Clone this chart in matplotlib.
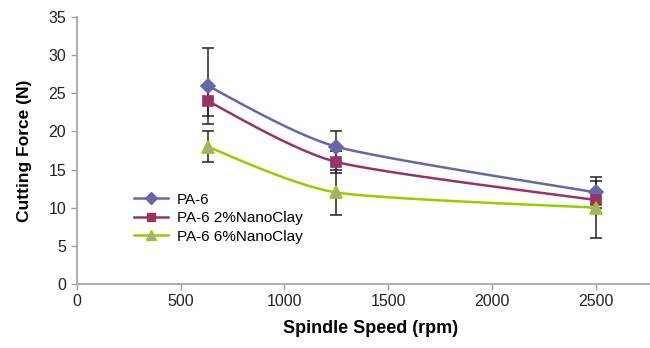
"""Cutting force vs spindle speed for PA-6 and nanoclay composites."""

import matplotlib

matplotlib.use("Agg")
import matplotlib.pyplot as plt
import numpy as np

plt.rcParams["font.family"] = ["Liberation Sans", "DejaVu Sans"]

speed = [630, 1250, 2500]
series_names = ["PA-6", "PA-6 2%NanoClay", "PA-6 6%NanoClay"]
force_pa6 = [26, 18, 12]
force_2pct = [24, 16, 11]
force_6pct = [18, 12, 10]
err_pa6 = [5, 2, 1.5]
err_2pct = [2, 1.5, 1]
err_6pct = [2, 3, 4]

X_MAX = 2760
Y_MAX = 35


def smooth_curve(xs, ys, sx, sy, tension=1 / 9, n=40):
    """Smoothed line: cubic Bezier through the points, computed in pixel space."""
    px = np.asarray(xs, float) * sx
    py = np.asarray(ys, float) * sy
    pts = np.column_stack([px, py])
    ext = np.vstack([pts[0], pts, pts[-1]])
    t = np.linspace(0, 1, n)[:, None]
    out = []
    for i in range(len(pts) - 1):
        p0, p1 = ext[i + 1], ext[i + 2]
        c1 = p0 + (ext[i + 2] - ext[i]) * tension
        c2 = p1 - (ext[i + 3] - ext[i + 1]) * tension
        seg = (1 - t) ** 3 * p0 + 3 * (1 - t) ** 2 * t * c1 + 3 * (1 - t) * t ** 2 * c2 + t ** 3 * p1
        out.append(seg if i == 0 else seg[1:])
    out = np.vstack(out)
    return out[:, 0] / sx, out[:, 1] / sy


fig = plt.figure(figsize=(6.5, 3.48), dpi=100)
ax = fig.add_axes([0.118, 0.184, 0.882, 0.767])

ax_w = 0.882 * 650
ax_h = 0.767 * 348
sx = ax_w / X_MAX
sy = ax_h / Y_MAX

styles = [
    (force_pa6, err_pa6, "#6666a8", "D", "#6666a8", "#6666a8", 7),
    (force_2pct, err_2pct, "#993366", "s", "#993366", "#993366", 7),
    (force_6pct, err_6pct, "#99cc00", "^", "#a6a6a6", "#99cc00", 8),
]

handles = []
for (vals, errs, color, marker, face, edge, ms), name in zip(styles, series_names):
    ax.errorbar(speed, vals, yerr=errs, fmt="none", ecolor="#222222",
                elinewidth=1.1, capsize=4, capthick=1.1, zorder=2)
    cx, cy = smooth_curve(speed, vals, sx, sy)
    ax.plot(cx, cy, color=color, lw=1.8, zorder=3)
    ax.plot(speed, vals, linestyle="none", marker=marker, ms=ms,
            markerfacecolor=face, markeredgecolor=edge, markeredgewidth=1.2, zorder=4)
    (h,) = ax.plot([], [], color=color, lw=1.8, marker=marker, ms=ms - 1,
                   markerfacecolor=face, markeredgecolor=edge, label=name)
    handles.append(h)

ax.set_xlim(0, X_MAX)
ax.set_ylim(0, Y_MAX)
ax.set_xticks([0, 500, 1000, 1500, 2000, 2500])
ax.set_yticks(range(0, 36, 5))

for side in ("top", "right"):
    ax.spines[side].set_visible(False)
for side in ("left", "bottom"):
    ax.spines[side].set_color("#a0a0a0")
    ax.spines[side].set_linewidth(1.2)
ax.tick_params(colors="#a0a0a0", labelcolor="#222222", labelsize=11.5,
               length=4, width=1)

ax.set_xlabel("Spindle Speed (rpm)", fontsize=13, fontweight="bold")
ax.set_ylabel("Cutting Force (N)", fontsize=12.5, fontweight="bold")
ax.xaxis.set_label_coords(0.512, -0.135)
ax.yaxis.set_label_coords(-0.078, 0.5)

ax.legend(handles=handles, loc="upper left", bbox_to_anchor=(0.09, 0.365),
          frameon=False, fontsize=11, handlelength=2.2, labelspacing=0.3,
          borderaxespad=0, handletextpad=0.6)

fig.savefig("out.png", dpi=100)
